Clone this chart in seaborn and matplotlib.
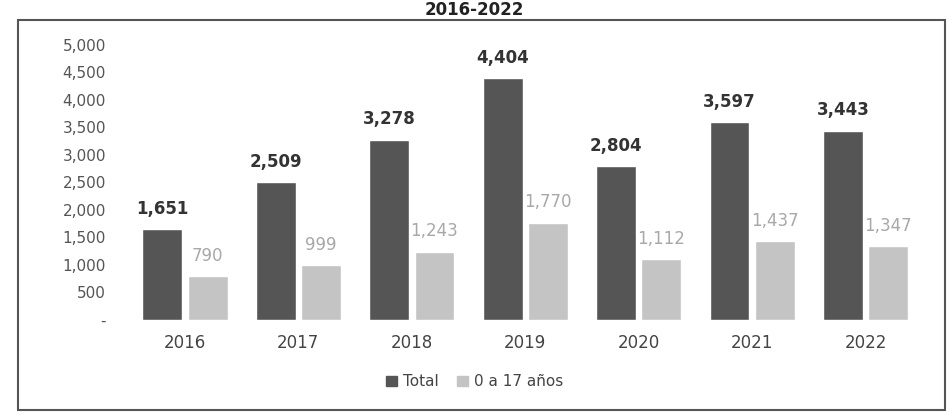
import seaborn as sns
from matplotlib import pyplot as plt
import pandas as pd

years = ['2016', '2017', '2018', '2019', '2020', '2021', '2022']
total = [1651, 2509, 3278, 4404, 2804, 3597, 3443]
menores = [790, 999, 1243, 1770, 1112, 1437, 1347]
series_names = ['Total', '0 a 17 años']

df = pd.DataFrame({'year': years * 2,
                   'value': total + menores,
                   'serie': [series_names[0]] * 7 + [series_names[1]] * 7})

sns.set_style('white')
plt.rcParams['font.family'] = ['DejaVu Sans']

fig = plt.figure(figsize=(9.49, 4.15), dpi=100)
ax = fig.add_axes([0.135, 0.229, 0.837, 0.663])

pal = {'Total': '#555555', '0 a 17 años': '#c4c4c4'}
sns.barplot(data=df, x='year', y='value', hue='serie', palette=pal,
            width=0.8, gap=0.12, ax=ax, legend=False)

# value labels
for cont, col, wt in zip(ax.containers, ['#333333', '#a8a8a8'], ['bold', 'normal']):
    ax.bar_label(cont, labels=[f'{v:,.0f}' for v in cont.datavalues],
                 padding=8, fontsize=12, color=col, fontweight=wt)

ax.set_ylim(0, 5000)
ax.set_yticks(range(0, 5001, 500))
ax.set_yticklabels(['-'] + [f'{v:,}' for v in range(500, 5001, 500)])
ax.tick_params(axis='y', labelsize=11, labelcolor='#555555', length=0, pad=16)
ax.tick_params(axis='x', labelsize=12, labelcolor='#444444', length=0, pad=10)
ax.set_xlabel('')
ax.set_ylabel('')
sns.despine(ax=ax, left=True, bottom=True)

# legend
handles = [plt.Rectangle((0, 0), 1, 1, color=pal[s]) for s in series_names]
fig.legend(handles, series_names, loc='center', bbox_to_anchor=(0.5, 0.08),
           ncol=2, frameon=False, fontsize=11, handlelength=0.7, handleheight=0.7,
           columnspacing=1.2, handletextpad=0.4, labelcolor='#444444')

# outer frame
frame = plt.Rectangle((0.019, 0.012), 0.977, 0.94, transform=fig.transFigure,
                      fill=False, edgecolor='#555555', linewidth=1.5)
fig.add_artist(frame)

# title
fig.text(0.5, 0.998, '2016-2022', ha='center', va='top', fontsize=12,
         fontweight='bold', color='#222222')

plt.savefig('out.png', dpi=100)
